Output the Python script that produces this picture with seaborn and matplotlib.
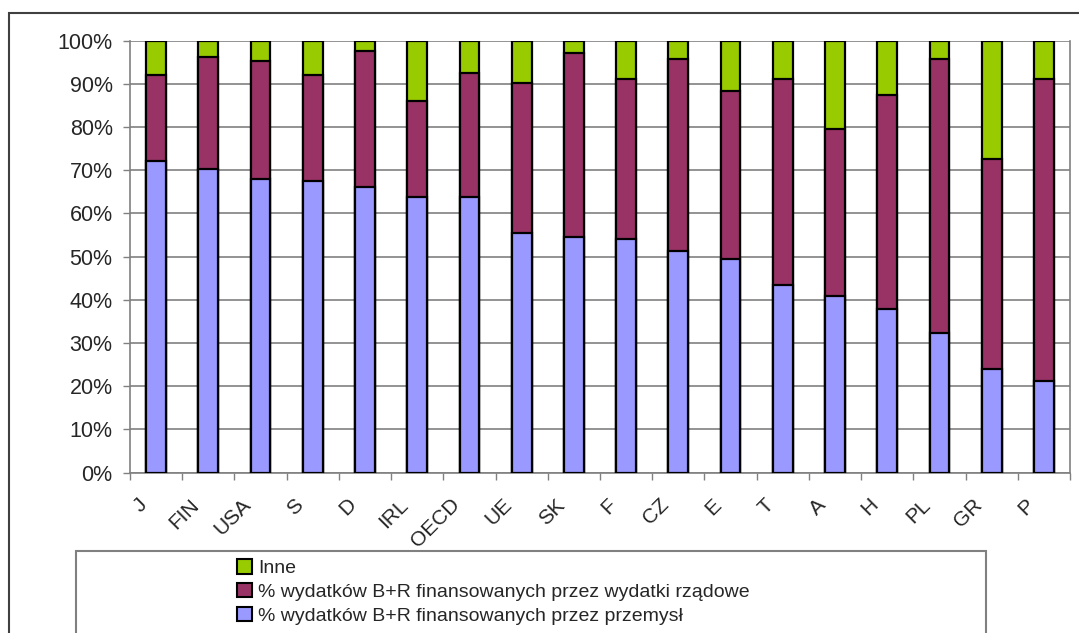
import numpy as np
import pandas as pd
import matplotlib
matplotlib.use("Agg")
import matplotlib.pyplot as plt
from matplotlib.patches import Patch, Rectangle
from matplotlib.transforms import ScaledTranslation
import seaborn as sns

countries = ["J", "FIN", "USA", "S", "D", "IRL", "OECD", "UE", "SK", "F",
             "CZ", "E", "T", "A", "H", "PL", "GR", "P"]
# % of R&D spending financed by industry
przemysl = [72.1, 70.3, 67.9, 67.5, 66.1, 63.9, 63.9, 55.6, 54.6, 54.1,
            51.3, 49.5, 43.4, 41.0, 37.9, 32.4, 24.1, 21.2]
# % of R&D spending financed by government
rzadowe = [20.0, 25.9, 27.4, 24.6, 31.5, 22.2, 28.7, 34.7, 42.6, 37.0,
           44.5, 38.9, 47.7, 38.6, 49.5, 63.4, 48.5, 69.9]
# other sources
inne = [7.9, 3.8, 4.7, 7.9, 2.4, 13.9, 7.4, 9.7, 2.8, 8.9,
        4.2, 11.6, 8.9, 20.4, 12.6, 4.2, 27.4, 8.9]

labels = ["Inne",
          "% wydatków B+R finansowanych przez wydatki rządowe",
          "% wydatków B+R finansowanych przez przemysł"]
colors = ["#99CC00", "#993366", "#9999FF"]

df = pd.DataFrame({"kraj": countries, "przemysl": przemysl,
                   "rzadowe": rzadowe, "inne": inne})
df["top_rz"] = df["przemysl"] + df["rzadowe"]
df["top_all"] = df["top_rz"] + df["inne"]

sns.set_style("white")
plt.rcParams["font.family"] = ["Liberation Sans", "DejaVu Sans"]

fig = plt.figure(figsize=(10.79, 6.33), dpi=100)
ax = fig.add_axes([130 / 1079, 1 - 472.7 / 633, 940 / 1079, 432 / 633])

# stacked bars: draw cumulative totals from the top down
for col, c in zip(["top_all", "top_rz", "przemysl"], colors):
    sns.barplot(data=df, x="kraj", y=col, color=c, edgecolor="black",
                linewidth=1.6, width=0.38, saturation=1, ax=ax, zorder=3)

ax.set_xlim(-0.5, len(countries) - 0.5)
ax.set_ylim(0, 100)
ax.set_yticks(np.arange(0, 101, 10))
ax.set_yticklabels([f"{v}%" for v in range(0, 101, 10)], fontsize=15.5)
ax.yaxis.grid(True, color="#808080", linewidth=1.2, zorder=0)
ax.set_axisbelow(True)
ax.set_xlabel("")
ax.set_ylabel("")

ax.set_xticks(range(len(countries)))
ax.set_xticklabels(countries, rotation=45, ha="right", rotation_mode="anchor",
                   fontsize=15)
ax.set_xticks(np.arange(-0.5, len(countries), 1), minor=True)
ax.tick_params(axis="x", which="major", length=0, pad=14)
ax.tick_params(axis="x", which="minor", length=5, width=1, color="#808080",
               direction="out", bottom=True)
ax.tick_params(axis="y", length=5, width=1, color="#808080", direction="out",
               left=True, pad=7.5)

for side in ["left", "bottom", "right"]:
    ax.spines[side].set_color("#808080")
    ax.spines[side].set_linewidth(1.2)
ax.spines["top"].set_visible(False)

# chart area frame
fig.patches.append(Rectangle((9 / 1079, -0.1), 1.2, (633 - 12.7) / 633 + 0.1,
                             transform=fig.transFigure, fill=False,
                             edgecolor="#404040", linewidth=1.5))
# legend frame
fig.patches.append(Rectangle((76 / 1079, -0.1), (986 - 76) / 1079,
                             (633 - 551) / 633 + 0.1,
                             transform=fig.transFigure, fill=False,
                             edgecolor="#808080", linewidth=1.5))

handles = [Patch(facecolor=c, edgecolor="black", linewidth=1.5) for c in colors]
fig.legend(handles, labels, loc="center left",
           bbox_to_anchor=(237 / 1079, (633 - 592) / 633),
           frameon=False, fontsize=14, handlelength=0.75, handleheight=0.75,
           handletextpad=0.35, labelspacing=0.3, borderpad=0, borderaxespad=0)

# nudge rotated country labels left/down, like the original
shift = ScaledTranslation(-0.19, -0.03, fig.dpi_scale_trans)
for lab in ax.xaxis.get_majorticklabels():
    lab.set_transform(lab.get_transform() + shift)

fig.savefig("out.png", dpi=100)
